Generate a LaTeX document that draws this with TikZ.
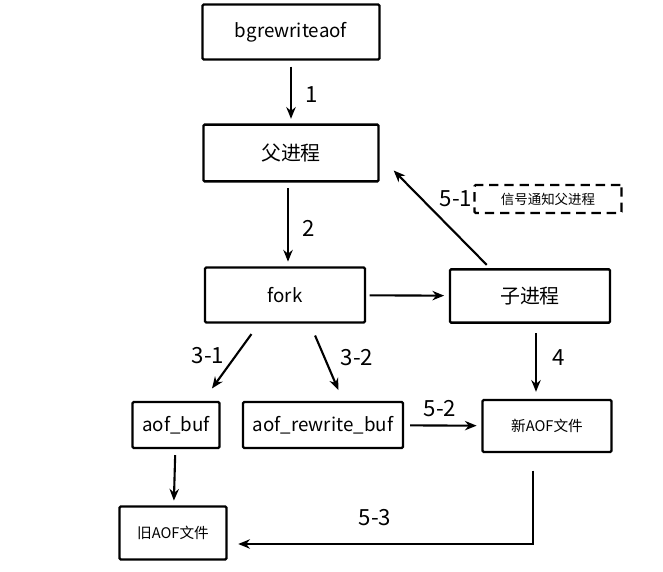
\documentclass[tikz,border=0pt]{standalone}
\usepackage{fontspec}
\setmainfont{Noto Sans CJK SC}
\usetikzlibrary{arrows.meta,positioning,calc}
\tikzset{
  flow/.style={-{Stealth[length=10pt,width=8pt]}, line width=1.8pt, shorten <=5pt, shorten >=4pt},
  box/.style={draw, line width=2pt, rounded corners=1pt, inner sep=2pt, font=\fontsize{16}{18}\selectfont},
  cjkbox/.style={box, font=\fontsize{17}{19}\selectfont},
  smallbox/.style={box, font=\fontsize{12.5}{14}\selectfont},
  notebox/.style={box, dash pattern=on 8pt off 5pt, font=\fontsize{11.5}{13}\selectfont},
  steplbl/.style={inner sep=1pt, font=\fontsize{19}{21}\selectfont},
}
\begin{document}
\begin{tikzpicture}[x=0.03cm, y=-0.03cm]
\useasboundingbox (0,0) rectangle (663,572);
% --- boxes ---
\node[box, minimum width=5.31cm, minimum height=1.65cm] (bg) at (291,32) {bgrewriteaof};
\node[cjkbox, minimum width=5.25cm, minimum height=1.7cm] (fu) at (291,153) {父进程};
\node[notebox, minimum width=4.41cm, minimum height=0.84cm] (sig) at (548,199) {信号通知父进程};
\node[box, minimum width=4.8cm, minimum height=1.65cm] (fork) at (285,295) {fork};
\node[cjkbox, minimum width=4.8cm, minimum height=1.6cm] (zi) at (530,296) {子进程};
\node[box, minimum width=2.61cm, minimum height=1.38cm] (abuf) at (176,425) {aof\_buf};
\node[box, minimum width=4.8cm, minimum height=1.38cm] (rbuf) at (323,425) {aof\_rewrite\_buf};
\node[smallbox, minimum width=3.87cm, minimum height=1.56cm] (xin) at (547,426) {新AOF文件};
\node[smallbox, minimum width=3.21cm, minimum height=1.59cm] (jiu) at (173,533) {旧AOF文件};
% --- step labels ---
\node[steplbl] (l1) at (312,95) {1};
\node[steplbl] (l2) at (309,228) {2};
\node[steplbl] (l31) at (208,356) {3-1};
\node[steplbl] (l32) at (357,358) {3-2};
\node[steplbl] (l4) at (559,358) {4};
\node[steplbl] (l51) at (456,199) {5-1};
\node[steplbl] (l52) at (440,409) {5-2};
\node[steplbl] (l53) at (375,518) {5-3};
% --- connectors ---
\draw[flow] (bg) -- (fu);
\coordinate (c2) at ($(fu.south)+(-3,0)$);
\draw[flow] (c2) -- (c2 |- fork.north);
\draw[flow, shorten <=3pt] (fork) -- (zi);
\draw[flow, shorten <=11pt, shorten >=13pt] ($(fork.south)+(-26,0)$) -- ($(abuf.north)+(27,0)$);
\draw[flow, shorten <=11pt, shorten >=10pt] ($(fork.south)+(25,0)$) -- ($(rbuf.north)+(20,0)$);
\coordinate (c4) at ($(zi.south)+(6,0)$);
\draw[flow, shorten <=8pt, shorten >=6pt] (c4) -- (c4 |- xin.north);
\draw[flow] (rbuf) -- (xin);
\draw[flow] (abuf) -- (jiu);
\draw[flow, shorten <=15pt, shorten >=9pt] ($(xin.south)+(-14,0)$) |- ($(jiu.east)+(0,11)$);
\draw[flow, shorten <=4pt, shorten >=0pt] ($(zi.north)+(-40,0)$) -- ($(fu.south east)+(14,-12)$);
\end{tikzpicture}
\end{document}
